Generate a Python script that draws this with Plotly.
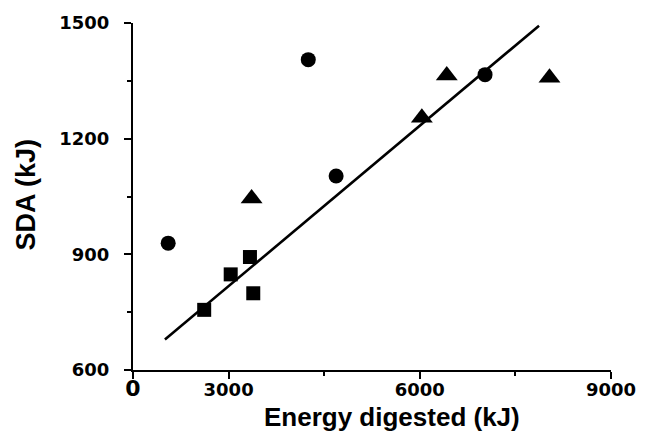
import plotly.graph_objects as go

# Data
circle_x = [2052, 4250, 4687, 7024]
circle_y = [929, 1405, 1103, 1366]
triangle_x = [3361, 6032, 6423, 8035]
triangle_y = [1045, 1254, 1364, 1358]
square_x = [2617, 3033, 3335, 3387]
square_y = [756, 848, 893, 799]
fit_x = [2001, 7871]
fit_y = [679, 1493]

x_tickvals = [1500, 3000, 6000, 9000]
x_ticktext = ['<span style="font-size:22px">0</span>', "3000", "6000", "9000"]
y_tickvals = [600, 900, 1200, 1500]
y_ticktext = ["600", "900", "1200", "1500"]

FONT = "Liberation Sans"
TICKFONT = "DejaVu Sans"

fig = go.Figure()
fig.add_trace(go.Scatter(x=fit_x, y=fit_y, mode="lines",
                         line=dict(color="black", width=2.6), showlegend=False))
fig.add_trace(go.Scatter(x=circle_x, y=circle_y, mode="markers",
                         marker=dict(symbol="circle", size=15, color="black"), showlegend=False))
fig.add_trace(go.Scatter(x=triangle_x, y=triangle_y, mode="markers",
                         marker=dict(symbol="triangle-up", size=19, color="black"), showlegend=False))
fig.add_trace(go.Scatter(x=square_x, y=square_y, mode="markers",
                         marker=dict(symbol="square", size=14, color="black"), showlegend=False))

fig.update_layout(
    width=648, height=442,
    margin=dict(l=133, r=28, t=22, b=72),
    paper_bgcolor="white", plot_bgcolor="white",
    font=dict(family=FONT, color="black", size=18, weight="bold"),
    xaxis=dict(range=[1500, 9000], tickmode="array", tickvals=x_tickvals, ticktext=x_ticktext,
               showgrid=False, zeroline=False, showline=True, linecolor="black", linewidth=2,
               ticks="outside", ticklen=7, tickwidth=2, tickcolor="black", ticklabelstandoff=-5,
               tickfont=dict(family=TICKFONT, size=18, weight="bold"),
               minor=dict(tickmode="array", tickvals=[4500, 7500], ticks="outside", ticklen=4,
                          tickwidth=2, tickcolor="black")),
    yaxis=dict(range=[600, 1500], tickmode="array", tickvals=y_tickvals, ticktext=y_ticktext,
               showgrid=False, zeroline=False, showline=True, linecolor="black", linewidth=2,
               ticks="outside", ticklen=7, tickwidth=2, tickcolor="black", ticklabelstandoff=11,
               tickfont=dict(family=TICKFONT, size=18, weight="bold"),
               minor=dict(tickmode="array", tickvals=[750, 1050, 1350], ticks="outside", ticklen=4,
                          tickwidth=2, tickcolor="black")),
    annotations=[
        dict(text="Energy digested (kJ)", xref="paper", yref="paper", x=(397 - 133) / 487,
             y=-(417 - 370) / 348, xanchor="center", yanchor="middle", showarrow=False,
             font=dict(family=FONT, size=26, weight="bold")),
        dict(text="SDA (kJ)", xref="paper", yref="paper", x=-(133 - 23) / 487,
             y=(370 - 194) / 348, xanchor="center", yanchor="middle", textangle=-90, showarrow=False,
             font=dict(family=FONT, size=27, weight="bold")),
    ],
)

fig.write_html("out.html")
